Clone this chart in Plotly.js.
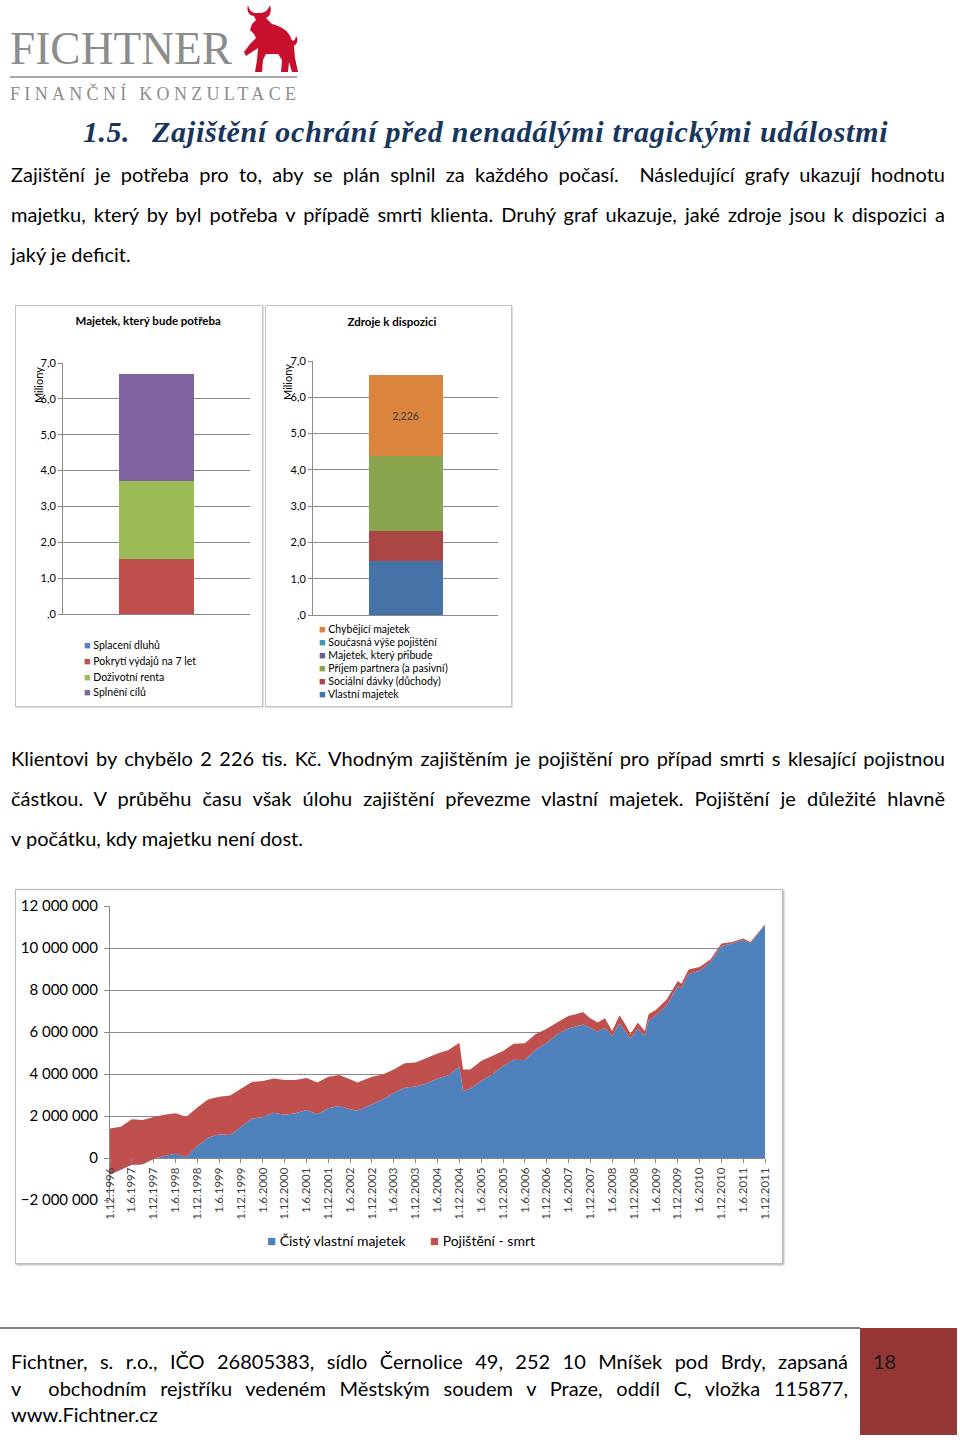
<!DOCTYPE html>
<html lang="cs">
<head>
<meta charset="utf-8">
<script src="https://cdn.plot.ly/plotly-3.0.1.min.js"></script>
<style>
  html, body { margin:0; padding:0; background:#fff; }
  #page { position:relative; width:960px; height:1442px; overflow:hidden; background:#fff; }
  .t { position:absolute; font-family:Lato, "Open Sans", sans-serif; font-size:20px; line-height:24px; color:#000; white-space:nowrap; }
  .j { text-align:justify; text-align-last:justify; white-space:normal; }
  .h { font-family:'Liberation Serif',serif; font-size:30px; line-height:30px; font-weight:bold; font-style:italic; color:#17365D; }
  .box { position:absolute; border:1px solid #c4c4c4; background:#fff; }
  .plot { position:absolute; left:0; top:0; }
</style>
</head>
<body>
<div id="page">
  <svg style="position:absolute;left:0;top:0" width="320" height="110">
    <text x="10" y="64" font-family="Liberation Serif, serif" font-size="46" fill="#8c8c8c" textLength="222" lengthAdjust="spacingAndGlyphs">FICHTNER</text>
    <line x1="10" y1="77" x2="297" y2="77" stroke="#a8a8a8" stroke-width="2"/>
    <text x="10" y="99.5" font-family="Liberation Serif, serif" font-size="18" fill="#8c8c8c" textLength="286" lengthAdjust="spacing">FINANČNÍ KONZULTACE</text>
    <path fill="#C8102E" d="M248,5 C246,12 250,16 254,16 L256,20 L252,24 L250,30 L254,34 L256,38 L250,44 L244,52 L246,56 L252,52 L258,48 L257,60 L255,72 L262,72 L263,60 L266,54 L278,54 L282,60 L281,72 L288,72 L289,62 L292,72 L298,72 L295,58 L294,46 C297,44 299,40 296,36 C295,42 292,42 291,38 C288,30 280,26 272,24 L266,18 C270,16 272,12 270,5 C268,11 264,13 260,13 L256,13 C252,13 249,10 248,5 Z"/>
  </svg>

  <div class="t h" style="left:83px;top:117px;letter-spacing:0.5px">1.5.</div>
  <div class="t h" style="left:152px;top:117px;letter-spacing:0.75px">Zajištění ochrání před nenadálými tragickými událostmi</div>

  <div class="t j" style="left:11px;top:162px;width:934px">Zajištění je potřeba pro to, aby se plán splnil za každého počasí.&nbsp; Následující grafy ukazují hodnotu</div>
  <div class="t j" style="left:11px;top:202px;width:934px">majetku, který by byl potřeba v případě smrti klienta. Druhý graf ukazuje, jaké zdroje jsou k dispozici a</div>
  <div class="t" style="left:11px;top:242px">jaký je deficit.</div>

  <div class="box" style="left:15px;top:305px;width:246px;height:400px;box-shadow:1px 1px 1px #e0e0e0"><div id="chart1" class="plot"></div></div>
  <div class="box" style="left:265px;top:305px;width:245px;height:400px;box-shadow:1px 1px 1px #e0e0e0"><div id="chart2" class="plot"></div></div>

  <div class="t j" style="left:11px;top:746px;width:934px">Klientovi by chybělo 2 226 tis. Kč. Vhodným zajištěním je pojištění pro případ smrti s klesající pojistnou</div>
  <div class="t j" style="left:11px;top:786px;width:934px">částkou. V průběhu času však úlohu zajištění převezme vlastní majetek. Pojištění je důležité hlavně</div>
  <div class="t" style="left:11px;top:826px">v počátku, kdy majetku není dost.</div>

  <div class="box" style="left:15px;top:889px;width:766px;height:373px;border-color:#bbb;box-shadow:1px 1px 2px #aaa"><div id="chart3" class="plot"></div></div>

  <div style="position:absolute;left:0;top:1327px;width:860px;height:2px;background:#7f7f7f"></div>
  <div style="position:absolute;left:860px;top:1328px;width:97px;height:107px;background:#953735"></div>
  <div class="t" style="left:873px;top:1349px;color:#1a1a1a">18</div>
  <div class="t j" style="left:11px;top:1349px;width:837px">Fichtner, s. r.o., IČO 26805383, sídlo Černolice 49, 252 10 Mníšek pod Brdy, zapsaná</div>
  <div class="t j" style="left:11px;top:1376px;width:837px">v&nbsp; obchodním rejstříku vedeném Městským soudem v Praze, oddíl C, vložka 115877,</div>
  <div class="t" style="left:11px;top:1402px">www.Fichtner.cz</div>
</div>

<script>
// ---------- data ----------
// Chart 1: Majetek, který bude potřeba (millions CZK)
const needCategory = ['Potřeba'];
const needSeries = ['Splacení dluhů', 'Pokrytí výdajů na 7 let', 'Doživotní renta', 'Splnění cílů'];
const needValues = [0, 1.54, 2.17, 2.97];
const needColors = ['#4F81BD', '#C0504D', '#9BBB59', '#8064A2'];

// Chart 2: Zdroje k dispozici (millions CZK), bottom to top
const srcCategory = ['Zdroje'];
const srcSeries = ['Vlastní majetek', 'Sociální dávky (důchody)', 'Příjem partnera (a pasivní)', 'Majetek, který přibude', 'Současná výše pojištění', 'Chybějící majetek'];
const srcValues = [1.50, 0.82, 2.06, 0, 0, 2.226];
const srcColors = ['#4572A7', '#AA4643', '#89A54E', '#71588F', '#4198AF', '#DB843D'];

const millionTicks = [0, 1, 2, 3, 4, 5, 6, 7];
const millionTickText = [',0', '1,0', '2,0', '3,0', '4,0', '5,0', '6,0', '7,0'];

// Chart 3: time series (CZK)
const dates3 = ['1996-12-01','1997-03-01','1997-06-01','1997-09-01','1997-12-01','1998-03-01','1998-06-01','1998-09-01','1998-12-01','1999-03-01',
  '1999-06-01','1999-09-01','1999-12-01','2000-03-01','2000-06-01','2000-09-01','2000-12-01','2001-03-01','2001-06-01','2001-09-01',
  '2001-12-01','2002-03-01','2002-06-01','2002-08-01','2002-12-01','2003-03-01','2003-06-01','2003-09-01','2003-12-01','2004-03-01',
  '2004-06-01','2004-09-01','2004-11-01','2004-12-01','2005-01-01','2005-03-01','2005-06-01','2005-09-01','2005-12-01','2006-03-01',
  '2006-06-01','2006-09-01','2006-12-01','2007-03-01','2007-06-01','2007-08-01','2007-10-01','2007-12-01','2008-02-01','2008-04-01',
  '2008-06-01','2008-08-01','2008-10-01','2008-11-01','2009-01-01','2009-03-01','2009-04-01','2009-06-01','2009-09-01','2009-12-01',
  '2010-01-01','2010-03-01','2010-06-01','2010-09-01','2010-12-01','2011-03-01','2011-06-01','2011-08-01','2011-10-01','2011-12-01'];
const netWorth = [-780000,-540000,-320000,-300000,-30000,100000,200000,50000,570000,970000,
  1130000,1100000,1490000,1870000,1950000,2160000,2060000,2130000,2290000,2080000,
  2370000,2480000,2320000,2250000,2560000,2790000,3110000,3350000,3400000,3550000,
  3780000,3940000,4220000,4330000,3190000,3300000,3670000,3980000,4380000,4680000,
  4670000,5150000,5490000,5900000,6170000,6250000,6360000,6200000,6020000,6200000,
  5800000,6420000,5950000,5680000,6150000,5800000,6550000,6780000,7270000,8190000,
  8080000,8750000,8920000,9320000,10100000,10210000,10380000,10230000,10660000,11100000];
const deathInsurance = [2180000,2030000,2160000,2110000,1980000,1960000,1930000,1920000,1830000,1820000,
  1790000,1880000,1810000,1750000,1720000,1620000,1650000,1580000,1520000,1510000,
  1500000,1470000,1430000,1350000,1310000,1190000,1110000,1160000,1150000,1230000,
  1200000,1200000,1150000,1160000,1030000,920000,950000,880000,720000,760000,
  790000,750000,670000,570000,590000,600000,590000,450000,430000,450000,
  250000,380000,300000,220000,300000,250000,300000,270000,290000,240000,
  220000,230000,180000,130000,120000,80000,70000,50000,40000,30000];
const series3 = ['Čistý vlastní majetek', 'Pojištění - smrt'];
const colors3 = ['#4F81BD', '#C0504D'];

// ---------- drawing ----------
const FONT = 'Lato, "Open Sans", sans-serif';
const GRID = '#8a8a8a';
const cfg = {staticPlot: true, displayModeBar: false};

function legendItem(name, color, x, y, size, sqSize) {
  return {
    xref: 'paper', yref: 'paper', x: x, y: y,
    xanchor: 'left', yanchor: 'middle', showarrow: false, align: 'left',
    text: '<span style="color:' + color + ';font-size:' + sqSize + 'px">■</span> ' + name,
    font: {family: FONT, size: size, color: '#000'}
  };
}

function stackedBar(divId, cat, names, vals, colors, opts) {
  const traces = names.map((n, i) => ({
    type: 'bar', x: cat, y: [vals[i]], name: n,
    marker: {color: colors[i], line: {width: 0}},
    showlegend: false,
    texttemplate: (opts.labelIdx === i) ? '%{y:.3f}' : undefined,
    textposition: (opts.labelIdx === i) ? 'inside' : 'none',
    insidetextanchor: 'middle',
    textfont: {family: FONT, size: 10.5, color: '#3a3a3a'}
  }));
  const legendAnns = opts.legendOrder.map((idx, k) =>
    legendItem(names[idx], colors[idx], opts.legX, opts.legY - k * opts.legStep, 10.5, 11));
  const layout = {
    width: opts.w, height: opts.h,
    margin: opts.margin,
    barmode: 'stack', bargap: 0.6,
    separators: ', ',
    paper_bgcolor: 'rgba(0,0,0,0)', plot_bgcolor: '#fff',
    font: {family: FONT, size: 10.5, color: '#000'},
    title: {text: '<b>' + opts.title + '</b>', font: {family: FONT, size: 11.5, color: '#000'},
      xref: 'container', x: opts.titleX, xanchor: 'center', yref: 'container', y: opts.titleY, yanchor: 'middle'},
    xaxis: {type: 'category', showticklabels: false, ticks: '', showline: true, linecolor: GRID, linewidth: 1, showgrid: false, zeroline: false},
    yaxis: {range: [0, 7], tickvals: millionTicks, ticktext: millionTickText, ticks: 'outside', ticklen: 4, tickcolor: GRID,
      showline: true, linecolor: GRID, gridcolor: GRID, zeroline: false, automargin: false,
      tickfont: {family: FONT, size: 11, color: '#000'}},
    showlegend: false,
    annotations: [{xref: 'paper', yref: 'paper', x: opts.milX, y: opts.milY, text: 'Miliony', textangle: -90,
      showarrow: false, xanchor: 'center', yanchor: 'middle', font: {family: FONT, size: 11, color: '#000'}}]
      .concat(legendAnns)
  };
  Plotly.newPlot(divId, traces, layout, cfg);
}

stackedBar('chart1', needCategory, needSeries, needValues, needColors, {
  w: 246, h: 400, margin: {l: 47, r: 12, t: 57, b: 92},
  title: 'Majetek, který bude potřeba', titleX: 0.537, titleY: 1 - 15 / 400,
  milX: -0.134, milY: 0.912,
  legendOrder: [0, 1, 2, 3], legX: 0.1, legY: -0.1235, legStep: 0.0618,
  labelIdx: -1
});

stackedBar('chart2', srcCategory, srcSeries, srcValues, srcColors, {
  w: 245, h: 400, margin: {l: 47, r: 13, t: 55, b: 91},
  title: 'Zdroje k dispozici', titleX: 0.514, titleY: 1 - 16 / 400,
  milX: -0.141, milY: 0.917,
  legendOrder: [5, 4, 3, 2, 1, 0], legX: 0.02, legY: -0.055, legStep: 0.0512,
  labelIdx: 5
});

const traces3 = [
  {type: 'scatter', mode: 'lines', x: dates3, y: netWorth, name: series3[0], stackgroup: 'one',
   fillcolor: colors3[0], line: {width: 0, color: colors3[0]}, showlegend: false},
  {type: 'scatter', mode: 'lines', x: dates3, y: deathInsurance, name: series3[1], stackgroup: 'one',
   fillcolor: colors3[1], line: {width: 0, color: colors3[1]}, showlegend: false}
];
const layout3 = {
  width: 766, height: 373,
  margin: {l: 94, r: 17, t: 16, b: 63},
  separators: ', ',
  paper_bgcolor: 'rgba(0,0,0,0)', plot_bgcolor: '#fff',
  font: {family: FONT, size: 14, color: '#000'},
  xaxis: {type: 'date', range: [dates3[0], dates3[dates3.length - 1]], anchor: 'free', position: 2 / 14,
    tick0: '1996-12-01', dtick: 'M6', tickformat: '%-d.%-m.%Y', tickangle: -90,
    ticks: 'outside', ticklen: 4, tickcolor: GRID, showline: false, showgrid: false, zeroline: false, automargin: false,
    tickfont: {family: FONT, size: 11.5, color: '#404040'}},
  yaxis: {range: [-2000000, 12000000], tick0: 0, dtick: 2000000, tickformat: ',d',
    ticks: 'outside', ticklen: 5, tickcolor: GRID, showline: true, linecolor: GRID, gridcolor: GRID,
    ticklabelstandoff: 3,
    zeroline: false, automargin: false, tickfont: {family: FONT, size: 15, color: '#000'}},
  showlegend: false,
  annotations: [
    legendItem(series3[0], colors3[0], (265 - 110) / 655, -0.136, 14, 15),
    legendItem(series3[1], colors3[1], (428 - 110) / 655, -0.136, 14, 15)
  ]
};
Plotly.newPlot('chart3', traces3, layout3, cfg);
</script>
</body>
</html>
